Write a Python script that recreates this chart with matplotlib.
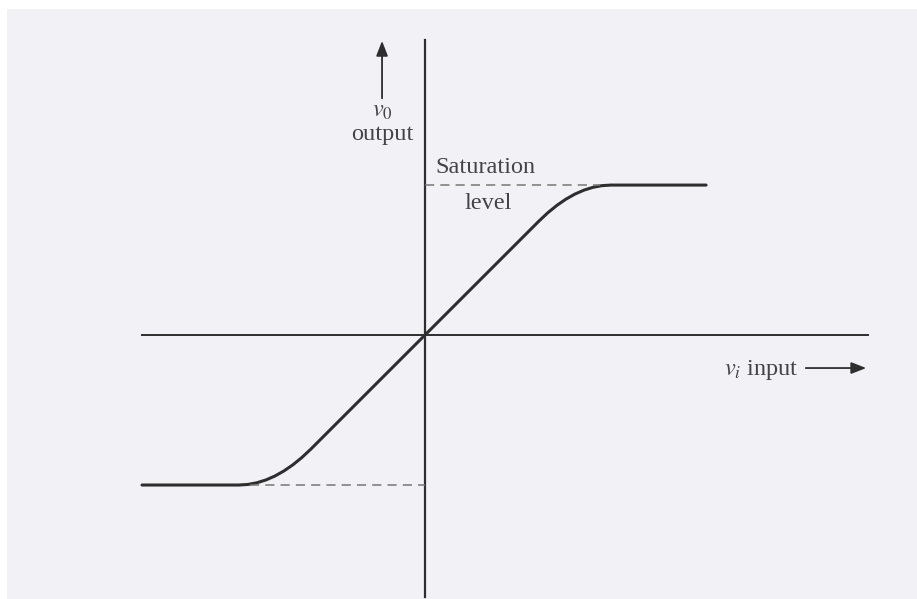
import matplotlib
matplotlib.use('Agg')
import matplotlib.pyplot as plt

# transfer characteristic (1 unit ~ 30 px)
vin = [-9.43, -6.2, -5.9, -5.6, -5.3, -5.0, -4.7, -4.4, -4.1, -3.8,
       0.0,
       3.8, 4.1, 4.4, 4.7, 5.0, 5.3, 5.6, 5.9, 6.2, 9.37]
vout = [-5.0, -5.0, -4.981, -4.925, -4.831, -4.7, -4.531, -4.325, -4.081, -3.8,
        0.0,
        3.8, 4.081, 4.325, 4.531, 4.7, 4.831, 4.925, 4.981, 5.0, 5.0]
sat_level = 5.0
knee_in = 5.83

x_axis = [-9.43, 14.77]
y_axis = [-8.73, 9.83]

plt.rcParams['font.family'] = ['Liberation Serif', 'DejaVu Serif']
plt.rcParams['mathtext.fontset'] = 'stix'

fig = plt.figure(figsize=(9.17, 5.99), dpi=100, facecolor='white')
ax = fig.add_axes([7 / 917, 0, 910 / 917, 590 / 599])
ax.set_facecolor('#f2f2f6')
ax.set_xlim(-13.93, 16.4)
ax.set_ylim(-8.8, 10.87)
for s in ax.spines.values():
    s.set_visible(False)
ax.set_xticks([])
ax.set_yticks([])

ink = '#2e2e30'
ax.plot(x_axis, [0, 0], color=ink, lw=1.4)
ax.plot([0, 0], y_axis, color=ink, lw=1.6)

ax.plot(vin, vout, color=ink, lw=2.2, solid_capstyle='round')
ax.plot([0, knee_in], [sat_level, sat_level], color='#777777', lw=1.1,
        ls=(0, (6, 4)))
ax.plot([-knee_in, 0], [-sat_level, -sat_level], color='#777777', lw=1.1,
        ls=(0, (6, 4)))

txt = '#444448'
fs = 17.5
ax.annotate('', xy=(-1.43, 9.9), xytext=(-1.43, 7.8),
            arrowprops=dict(arrowstyle='-|>,head_length=0.9,head_width=0.35',
                            color=ink, lw=1.3))
ax.text(-1.43, 7.45, r'$v_0$', ha='center', va='center', fontsize=fs, color=txt)
ax.text(-1.43, 6.7, 'output', ha='center', va='center', fontsize=fs, color=txt)

ax.text(2.03, 5.6, 'Saturation', ha='center', va='center', fontsize=fs, color=txt)
ax.text(2.1, 4.4, 'level', ha='center', va='center', fontsize=fs, color=txt)

ax.text(11.2, -1.15, r'$v_i$ input', ha='center', va='center', fontsize=fs,
        color=txt)
ax.annotate('', xy=(14.8, -1.1), xytext=(12.6, -1.1),
            arrowprops=dict(arrowstyle='-|>,head_length=0.9,head_width=0.35',
                            color=ink, lw=1.3))

fig.savefig('out.png', dpi=100, facecolor=fig.get_facecolor())
